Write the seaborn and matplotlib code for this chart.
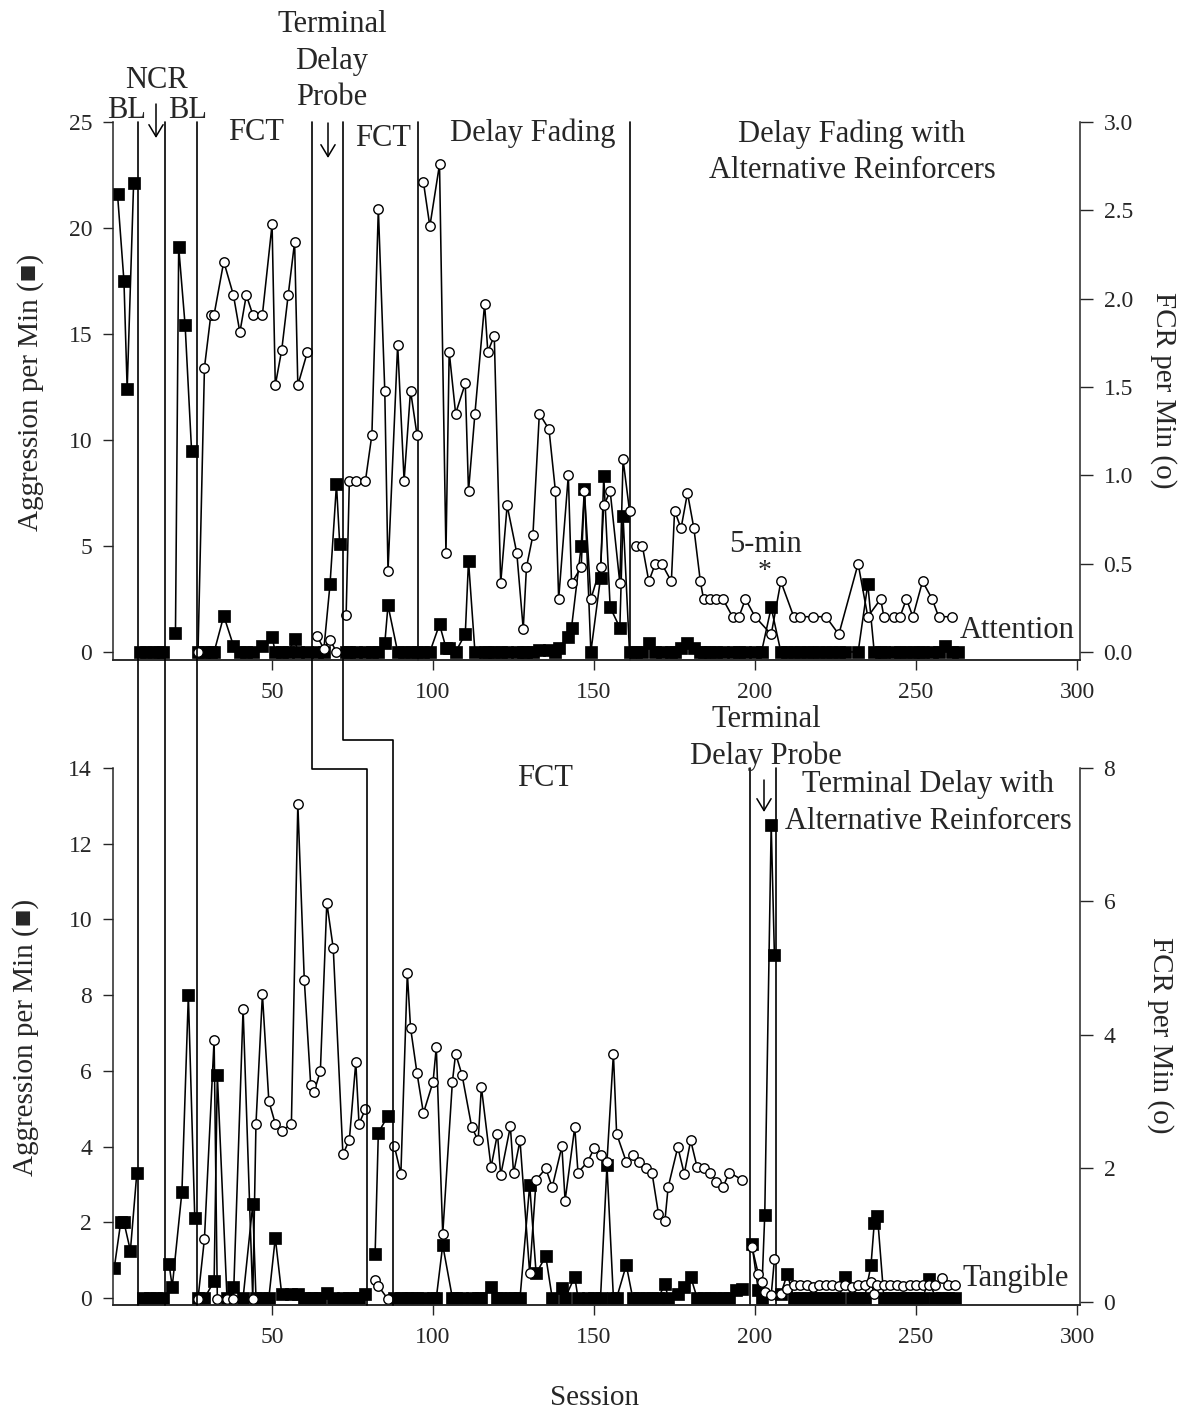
import numpy as np
import pandas as pd
import matplotlib
matplotlib.use("Agg")
import matplotlib.pyplot as plt
import seaborn as sns
from matplotlib.lines import Line2D
from matplotlib.ticker import FormatStrFormatter

# ---------------- data: Attention (top panel) ----------------
top_session = [2, 4, 5, 7,
               9, 11, 13, 15, 16,
               20, 21, 23, 25,
               27, 29, 31, 32, 35, 38, 40, 42, 44, 47, 50, 51, 53, 55, 57, 58, 61,
               64, 66, 68, 70, 71,
               73, 74, 76, 79, 81, 83, 85, 86, 89, 91, 93, 95,
               97, 99, 102, 104, 105, 107, 110, 111, 113, 116, 117, 119, 121, 123, 126, 128, 129,
               131, 133, 136, 138, 139, 142, 143, 146, 147, 149, 152, 153, 155, 158, 159, 161,
               163, 165, 167, 169, 171, 174, 175, 177, 179, 181, 183, 184, 186, 188, 190, 193, 195,
               197, 200, 202, 205, 208, 210, 212, 214, 216, 218, 220, 222, 224, 226, 228, 232, 235,
               237, 239, 240, 243, 245, 247, 249, 251, 252, 255, 257, 259, 261, 263]
top_aggression = [21.6, 17.5, 12.4, 22.1,
                  0, 0, 0, 0, 0,
                  0.9, 19.1, 15.4, 9.5,
                  0, 0, 0, 0, 1.7, 0.3, 0, 0, 0, 0.3, 0.7, 0, 0, 0, 0.6, 0, 0,
                  0, 0, 3.2, 7.9, 5.1,
                  0, 0, 0, 0, 0, 0, 0.4, 2.2, 0, 0, 0, 0,
                  0, 0, 1.3, 0.2, 0.2, 0, 0.85, 4.3, 0, 0, 0, 0, 0, 0, 0, 0, 0,
                  0, 0.1, 0.1, 0, 0.2, 0.7, 1.15, 5.0, 7.7, 0, 3.5, 8.3, 2.1, 1.15, 6.4, 0,
                  0, 0, 0.4, 0, 0, 0, 0, 0.2, 0.4, 0.2, 0, 0, 0, 0, 0, 0, 0,
                  0, 0, 0, 2.1, 0, 0, 0, 0, 0, 0, 0, 0, 0, 0, 0, 0, 3.2,
                  0, 0, 0, 0, 0, 0, 0, 0, 0, 0, 0, 0.3, 0, 0]
top_fcr = [None, None, None, None,
           None, None, None, None, None,
           None, None, None, None,
           0.0, 1.61, 1.91, 1.91, 2.21, 2.02, 1.81, 2.02, 1.91, 1.91, 2.42, 1.51, 1.71, 2.02, 2.32, 1.51, 1.70,
           0.09, 0.02, 0.07, 0.0, None,
           0.21, 0.97, 0.97, 0.97, 1.23, 2.51, 1.48, 0.46, 1.74, 0.97, 1.48, 1.23,
           2.66, 2.41, 2.76, 0.56, 1.70, 1.35, 1.52, 0.91, 1.35, 1.97, 1.70, 1.79, 0.39, 0.83, 0.56, 0.13, 0.48,
           0.66, 1.35, 1.26, 0.91, 0.30, 1.0, 0.39, 0.48, 0.91, 0.30, 0.48, 0.83, 0.91, 0.39, 1.09, 0.80,
           0.60, 0.60, 0.40, 0.50, 0.50, 0.40, 0.80, 0.70, 0.90, 0.70, 0.40, 0.30, 0.30, 0.30, 0.30, 0.20, 0.20,
           0.30, 0.20, None, 0.10, 0.40, None, 0.20, 0.20, None, 0.20, None, 0.20, None, 0.10, None, 0.50, 0.20,
           None, 0.30, 0.20, 0.20, 0.20, 0.30, 0.20, None, 0.40, 0.30, 0.20, None, 0.20, None]
top_phase_lines = [8.3, 16.8, 26.7, 62.4, 72.0, 95.3, 161.2]

# ---------------- data: Tangible (bottom panel) ----------------
bottom_session = [1, 3, 4, 6, 8,
                  10, 12, 14, 16,
                  18, 19, 22, 24, 26,
                  27, 29, 32, 33, 36, 38, 41, 44, 45, 47, 49, 51, 53, 56, 58, 60, 62, 63, 65, 67,
                  69, 72, 74, 76, 77, 79,
                  82, 83, 86,
                  88, 90, 92, 93, 95, 97, 100, 101, 103, 106, 107, 109, 112, 114, 115, 118, 120, 121,
                  124, 125, 127, 130, 132, 135, 137, 140, 141, 144, 145, 148, 150, 152, 154, 156, 157,
                  160, 162, 164, 166, 168, 170, 172, 173, 176, 178, 180, 182, 184, 186, 188, 190, 192,
                  194, 196,
                  199, 201, 202, 203, 205, 206,
                  208, 210, 212, 214, 216, 218, 220, 222, 224, 226, 228, 230, 232, 234, 236, 237, 238,
                  240, 242, 244, 246, 248, 250, 252, 254, 256, 258, 260, 262]
bottom_aggression = [0.8, 2.0, 2.0, 1.25, 3.3,
                     0, 0, 0, 0,
                     0.9, 0.3, 2.8, 8.0, 2.1,
                     0, 0, 0.44, 5.9, 0, 0.29, 0, 2.47, 0, 0, 0, 1.59, 0.1, 0.1, 0.1, 0, 0, 0, 0, 0.13,
                     0, 0, 0, 0, 0, 0.1,
                     1.16, 4.37, 4.81,
                     0, 0, 0, 0, 0, 0, 0, 0, 1.4, 0, 0, 0, 0, 0, 0, 0.3, 0, 0,
                     0, 0, 0, 2.98, 0.65, 1.1, 0, 0.26, 0, 0.56, 0, 0, 0, 0, 3.5, 0, 0,
                     0.87, 0, 0, 0, 0, 0, 0.38, 0, 0.1, 0.3, 0.56, 0, 0, 0, 0, 0, 0,
                     0.2, 0.25,
                     1.43, 0.2, 0, 2.19, 12.5, 9.06,
                     0.1, 0.64, 0, 0, 0, 0, 0, 0, 0, 0, 0.55, 0, 0, 0, 0.87, 1.97, 2.17,
                     0, 0, 0, 0, 0, 0, 0, 0.49, 0, 0, 0, 0]
bottom_fcr = [None, None, None, None, None,
              None, None, None, None,
              None, None, None, None, None,
              0.05, 0.95, 3.93, 0.05, 0.05, 0.05, 4.39, 0.05, 2.67, 4.61, 3.01, 2.67, 2.56, 2.67, 7.46, 4.83,
              3.25, 3.14, 3.46, 5.98,
              5.30, 2.21, 2.43, 3.59, 2.67, 2.89,
              0.33, 0.24, 0.04,
              2.33, 1.92, 4.93, 4.11, 3.43, 2.83, 3.30, 3.82, 1.02, 3.30, 3.72, 3.40, 2.62, 2.42, 3.22, 2.02,
              2.52, 1.90,
              2.63, 1.93, 2.42, 0.43, 1.83, 2.0, 1.72, 2.33, 1.52, 2.62, 1.94, 2.1, 2.3, 2.2, 2.10, 3.72, 2.52,
              2.1, 2.2, 2.1, 2.0, 1.93, 1.32, 1.22, 1.72, 2.32, 1.92, 2.42, 2.02, 2.0, 1.94, 1.8, 1.72, 1.94,
              None, 1.83,
              0.83, 0.42, 0.30, 0.15, 0.10, 0.64,
              0.12, 0.20, 0.25, 0.26, 0.25, 0.22, 0.25, 0.26, 0.25, 0.24, 0.25, 0.22, 0.25, 0.26, 0.30, 0.12,
              0.25,
              0.25, 0.26, 0.25, 0.24, 0.25, 0.26, 0.25, 0.25, 0.26, 0.36, 0.25, 0.25]
bottom_phase_lines = [8.3, 16.8, 26.7, 79.5, 87.6, 198.3, 206.5]

# ---------------- style ----------------
sns.set_style("ticks")
plt.rcParams["font.family"] = ["Liberation Serif", "DejaVu Serif", "DejaVu Sans"]
plt.rcParams["axes.linewidth"] = 1.1
plt.rcParams["xtick.major.width"] = 1.0
plt.rcParams["ytick.major.width"] = 1.0

W, H = 1183, 1412
fig = plt.figure(figsize=(W / 100, H / 100), dpi=100)


def fx(px):
    return px / W


def fy(py):
    return 1 - py / H


TICK_FS = 17
LABEL_FS = 21
ANN_FS = 22

ax_top = fig.add_axes([fx(113), fy(660), fx(1080) - fx(113), fy(122) - fy(660)])
ax_bot = fig.add_axes([fx(113), fy(1305), fx(1080) - fx(113), fy(768) - fy(1305)])


def draw_panel(ax, sessions, agg, fcr, phase_lines, ylim_l, ylim_r, yt_l, yt_r, rfmt):
    df = pd.DataFrame({"session": sessions, "agg": agg, "fcr": fcr}, dtype=float)
    df["phase"] = np.searchsorted(phase_lines, df["session"].values)
    ax2 = ax.twinx()
    sns.lineplot(data=df.dropna(subset=["agg"]), x="session", y="agg", units="phase",
                 estimator=None, ax=ax, color="black", linewidth=1.15, marker="s",
                 markersize=8.3, markerfacecolor="black", markeredgecolor="black",
                 markeredgewidth=0.5, legend=False)
    sns.lineplot(data=df.dropna(subset=["fcr"]), x="session", y="fcr", units="phase",
                 estimator=None, ax=ax2, color="black", linewidth=1.15, marker="o",
                 markersize=6.8, markerfacecolor="white", markeredgecolor="black",
                 markeredgewidth=1.0, legend=False)
    for a in (ax, ax2):
        a.set_xlim(0.6, 300.9)
        a.spines["top"].set_visible(False)
        a.set_xlabel("")
        a.set_ylabel("")
    ax.spines["right"].set_visible(False)
    ax2.spines["left"].set_visible(False)
    ax.set_ylim(*ylim_l)
    ax2.set_ylim(*ylim_r)
    ax.set_yticks(yt_l)
    ax2.set_yticks(yt_r)
    if rfmt:
        ax2.yaxis.set_major_formatter(FormatStrFormatter(rfmt))
    ax.set_xticks([50, 100, 150, 200, 250, 300])
    ax.tick_params(axis="x", direction="out", length=7, pad=9, labelsize=TICK_FS)
    ax.tick_params(axis="y", direction="out", length=7, pad=8, labelsize=TICK_FS)
    ax2.tick_params(axis="y", direction="out", length=9, pad=8, labelsize=TICK_FS)
    ax.set_facecolor("none")
    return ax2


ax_top2 = draw_panel(ax_top, top_session, top_aggression, top_fcr, top_phase_lines,
                     (-0.38, 25), (-0.045, 3.0), [0, 5, 10, 15, 20, 25],
                     [0, 0.5, 1.0, 1.5, 2.0, 2.5, 3.0], "%.1f")
ax_bot2 = draw_panel(ax_bot, bottom_session, bottom_aggression, bottom_fcr, bottom_phase_lines,
                     (-0.185, 14), (-0.045, 8), [0, 2, 4, 6, 8, 10, 12, 14],
                     [0, 2, 4, 6, 8], None)

# ---------------- phase-change lines ----------------
inv = fig.transFigure.inverted()


def xfig(ax, x):
    return inv.transform(ax.transData.transform((x, 0)))[0]


top_top = fy(122)
bot_bottom = fy(1305)
LW = 1.2

# lines running through both panels
for i in range(3):
    xf = xfig(ax_top, top_phase_lines[i])
    fig.add_artist(Line2D([xf, xf], [top_top, bot_bottom], transform=fig.transFigure,
                          color="black", lw=LW))
# stepped lines
for i, step_py in ((3, 769), (4, 740)):
    x1 = xfig(ax_top, top_phase_lines[i])
    x2 = xfig(ax_bot, bottom_phase_lines[i])
    fig.add_artist(Line2D([x1, x1, x2, x2], [top_top, fy(step_py), fy(step_py), bot_bottom],
                          transform=fig.transFigure, color="black", lw=LW))
# top-only lines
for i in (5, 6):
    ax_top.axvline(top_phase_lines[i], ymin=0, ymax=1, color="black", lw=LW, clip_on=False)
# bottom-only lines
for i in (5, 6):
    ax_bot.axvline(bottom_phase_lines[i], ymin=0, ymax=1, color="black", lw=LW, clip_on=False)


# ---------------- annotations ----------------
def ftext(px, py, s, size=ANN_FS, **kw):
    fig.text(fx(px), fy(py), s, fontsize=size, ha="center", va="center", **kw)


def farrow(px, py0, py1):
    fig.add_artist(matplotlib.patches.FancyArrowPatch(
        (fx(px), fy(py0)), (fx(px), fy(py1)), transform=fig.transFigure,
        arrowstyle="->,head_length=0.5,head_width=0.3", mutation_scale=17,
        lw=1.1, color="black", shrinkA=0, shrinkB=0))


ftext(157, 81, "NCR")
ftext(127, 111, "BL")
ftext(188, 111, "BL")
farrow(156, 104, 138)
ftext(332, 61, "Terminal\nDelay\nProbe", linespacing=1.36)
ftext(256, 133, "FCT")
farrow(328, 123, 158)
ftext(383, 139, "FCT")
ftext(533, 133, "Delay Fading")
ftext(852, 152, "Delay Fading with\nAlternative Reinforcers", linespacing=1.33)
ftext(765, 545, "5-min")
ftext(765, 572, "*", size=20)
ftext(1017, 630, "Attention")

ftext(545, 778, "FCT")
ftext(766, 738, "Terminal\nDelay Probe", linespacing=1.33)
farrow(764, 780, 812)
ftext(928, 803, "Terminal Delay with\nAlternative Reinforcers", linespacing=1.33)
ftext(1016, 1278, "Tangible")

# axis labels
fig.text(fx(31), fy(392), "Aggression per Min (\u25a0)", rotation=90, fontsize=LABEL_FS,
         ha="center", va="center")
fig.text(fx(1163), fy(390), "FCR per Min (o)", rotation=270, fontsize=LABEL_FS,
         ha="center", va="center")
fig.text(fx(26), fy(1037), "Aggression per Min (\u25a0)", rotation=90, fontsize=LABEL_FS,
         ha="center", va="center")
fig.text(fx(1160), fy(1035), "FCR per Min (o)", rotation=270, fontsize=LABEL_FS,
         ha="center", va="center")
fig.text(fx(595), fy(1398), "Session", fontsize=LABEL_FS, ha="center", va="center")

fig.savefig("out.png", dpi=100, facecolor="white")
